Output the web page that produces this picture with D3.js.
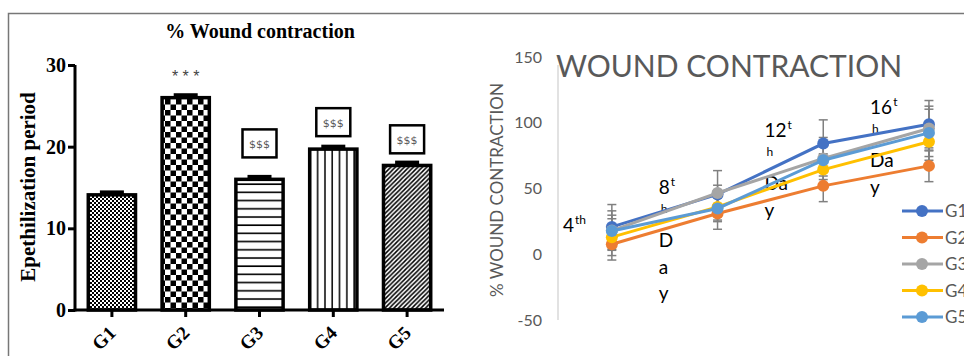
<!DOCTYPE html>
<html>
<head>
<meta charset="utf-8">
<script src="https://cdn.jsdelivr.net/npm/d3@7"></script>
<style>
  body { margin: 0; background: #fff; }
  svg { display: block; }
</style>
</head>
<body>
<svg id="chart" width="964" height="356"></svg>
<script>
// ---- left panel: bar chart ----
const groups = ["G1", "G2", "G3", "G4", "G5"];
const barValues = [14.1, 26.0, 16.0, 19.7, 17.7];
const barErrors = [0.3, 0.3, 0.3, 0.3, 0.35];
const barMarks = ["", "* * *", "$$$", "$$$", "$$$"];
const markLevels = [null, 28.9, 20.4, 23.0, 20.9];
const barTicks = [0, 10, 20, 30];

// ---- right panel: line chart ----
const days = ["4th Day", "8th Day", "12th Day", "16th Day"];
const g1 = [20.8, 45.5, 84.2, 98.9];
const g2 = [7.6, 31.0, 52.0, 67.2];
const g3 = [18.0, 46.6, 72.8, 95.6];
const g4 = [13.0, 36.0, 64.4, 85.5];
const g5 = [17.7, 34.8, 71.5, 92.3];
const g1Err = [17, 7, 18, 18];
const g2Err = [12, 12, 12, 12];
const g3Err = [15, 17, 16, 17];
const g4Err = [14, 10, 12, 14];
const g5Err = [12, 10, 12, 18];
const lineTicks = [-50, 0, 50, 100, 150];
const seriesColors = ["#4472C4", "#ED7D31", "#A5A5A5", "#FFC000", "#5B9BD5"];
// day labels as they wrap inside their text boxes
const dayLabelLines = [
    [["4", "th"]],
    [["8", "t"], ["", "h"], ["D"], ["a"], ["y"]],
    [["12", "t"], ["", "h"], ["Da"], ["y"]],
    [["16", "t"], ["", "h"], ["Da"], ["y"]]
];
const dayLabelLevels = [16.7, 45.6, 89, 107];

const svg = d3.select("#chart");
svg.append("rect").attr("width", 964).attr("height", 356).attr("fill", "#fff");

// outer frame
svg.append("path")
    .attr("d", "M8.5,356 V13.5 H964")
    .attr("fill", "none")
    .attr("stroke", "#777")
    .attr("stroke-width", 1.5);

// patterns
const defs = svg.append("defs");
function pattern(id, w, h, draw) {
    const p = defs.append("pattern")
        .attr("id", id)
        .attr("patternUnits", "userSpaceOnUse")
        .attr("width", w).attr("height", h);
    p.append("rect").attr("width", w).attr("height", h).attr("fill", "#fff");
    draw(p);
}
pattern("p1", 4, 4, p => {
    p.append("rect").attr("width", 2).attr("height", 2).attr("fill", "#000");
    p.append("rect").attr("x", 2).attr("y", 2).attr("width", 2).attr("height", 2).attr("fill", "#000");
});
pattern("p2", 11, 11, p => {
    p.append("rect").attr("width", 5.5).attr("height", 5.5).attr("fill", "#000");
    p.append("rect").attr("x", 5.5).attr("y", 5.5).attr("width", 5.5).attr("height", 5.5).attr("fill", "#000");
});
pattern("p3", 10, 8.2, p => {
    p.append("rect").attr("y", 3).attr("width", 10).attr("height", 1.6).attr("fill", "#000");
});
pattern("p4", 7.3, 10, p => {
    p.append("rect").attr("x", 3).attr("width", 1.5).attr("height", 10).attr("fill", "#000");
});
pattern("p5", 4.5, 4.5, p => {
    p.append("path").attr("d", "M-1,5.5 L5.5,-1 M-1,1 L1,-1 M3.5,5.5 L5.5,3.5")
        .attr("stroke", "#000").attr("stroke-width", 1.5);
});
const patternIds = ["p1", "p2", "p3", "p4", "p5"];

// ---------------- left chart ----------------
const left = svg.append("g");
const xBar = d3.scaleBand().domain(groups).range([75, 444]).paddingInner(0.36).paddingOuter(0.18);
const yBar = d3.scaleLinear().domain([0, 30]).range([310, 65]);

left.append("text")
    .attr("x", 260).attr("y", 38)
    .attr("text-anchor", "middle")
    .attr("font-family", "Liberation Serif")
    .attr("font-weight", "bold")
    .attr("font-size", 20)
    .text("% Wound contraction");

left.append("text")
    .attr("transform", "translate(35,187) rotate(-90)")
    .attr("text-anchor", "middle")
    .attr("font-family", "Liberation Serif")
    .attr("font-weight", "bold")
    .attr("font-size", 21)
    .text("Epethilization period");

left.selectAll("rect.bar")
    .data(barValues)
    .join("rect")
    .attr("class", "bar")
    .attr("x", (d, i) => xBar(groups[i]))
    .attr("y", d => yBar(d))
    .attr("width", xBar.bandwidth())
    .attr("height", d => yBar(0) - yBar(d))
    .attr("fill", (d, i) => `url(#${patternIds[i]})`)
    .attr("stroke", "#000")
    .attr("stroke-width", 3.5);

left.selectAll("line.err")
    .data(barValues)
    .join("line")
    .attr("class", "err")
    .attr("x1", (d, i) => xBar(groups[i]) + xBar.bandwidth() / 2 - 12)
    .attr("x2", (d, i) => xBar(groups[i]) + xBar.bandwidth() / 2 + 12)
    .attr("y1", (d, i) => yBar(d + barErrors[i]))
    .attr("y2", (d, i) => yBar(d + barErrors[i]))
    .attr("stroke", "#000")
    .attr("stroke-width", 4);

const yAxisL = left.append("g")
    .attr("transform", "translate(75,0)")
    .call(d3.axisLeft(yBar).tickValues(barTicks).tickSize(7).tickSizeOuter(0).tickPadding(2));
const xAxisL = left.append("g")
    .attr("transform", "translate(0,310)")
    .call(d3.axisBottom(xBar).tickSize(7).tickSizeOuter(0).tickFormat(""));
[yAxisL, xAxisL].forEach(a => {
    a.selectAll("path, line").attr("stroke", "#000").attr("stroke-width", 3);
});
yAxisL.select("path").attr("d", "M0,311.5 V" + yBar(30));
xAxisL.select("path").attr("d", "M73.5,0 H444");
yAxisL.selectAll("text")
    .attr("font-family", "Liberation Serif")
    .attr("font-weight", "bold")
    .attr("font-size", 20)
    .attr("fill", "#000");

left.selectAll("text.glabel")
    .data(groups)
    .join("text")
    .attr("class", "glabel")
    .attr("transform", d => `translate(${xBar(d) + xBar.bandwidth() / 2 + 5},334) rotate(-45)`)
    .attr("text-anchor", "end")
    .attr("font-family", "Liberation Serif")
    .attr("font-weight", "bold")
    .attr("font-size", 19)
    .text(d => d);

// significance marks
groups.forEach((gname, i) => {
    if (!barMarks[i]) return;
    const cx = xBar(gname) + xBar.bandwidth() / 2;
    const cy = yBar(markLevels[i]);
    if (barMarks[i].startsWith("$")) {
        left.append("rect")
            .attr("x", cx - 17).attr("y", cy - 14)
            .attr("width", 34).attr("height", 28)
            .attr("fill", "#fff")
            .attr("stroke", "#000")
            .attr("stroke-width", 2.5);
        left.append("text")
            .attr("x", cx).attr("y", cy + 4.5)
            .attr("text-anchor", "middle")
            .attr("font-family", "DejaVu Sans")
            .attr("font-size", 11)
            .attr("fill", "#555")
            .text(barMarks[i]);
    } else {
        left.append("text")
            .attr("x", cx).attr("y", cy + 8)
            .attr("text-anchor", "middle")
            .attr("font-family", "Liberation Sans")
            .attr("font-size", 16)
            .attr("fill", "#444")
            .text(barMarks[i]);
    }
});

// ---------------- right chart ----------------
const right = svg.append("g");
const xLine = d3.scaleBand().domain(days).range([559, 559 + 4 * 105.7]);
const yLine = d3.scaleLinear().domain([-50, 150]).range([320, 57]);
const cxDay = d => xLine(d) + xLine.bandwidth() / 2;

right.append("line")
    .attr("x1", 558).attr("x2", 558)
    .attr("y1", yLine(150) + 8).attr("y2", yLine(-50))
    .attr("stroke", "#d9d9d9").attr("stroke-width", 1.5);

right.append("g")
    .attr("transform", "translate(542,0)")
    .call(d3.axisLeft(yLine).tickValues(lineTicks).tickSize(0).tickPadding(0).tickFormat(d => String(d)))
    .call(g => g.select(".domain").remove())
    .selectAll("text")
    .attr("font-family", "Lato")
    .attr("font-size", 16)
    .attr("fill", "#595959");

right.append("text")
    .attr("transform", "translate(503,190) rotate(-90)")
    .attr("text-anchor", "middle")
    .attr("font-family", "Lato")
    .attr("font-size", 17)
    .attr("fill", "#595959")
    .text("% WOUND CONTRACTION");

right.append("text")
    .attr("x", 556).attr("y", 77)
    .attr("font-family", "Lato")
    .attr("font-size", 30)
    .attr("fill", "#595959")
    .text("WOUND CONTRACTION");

const series = [g1, g2, g3, g4, g5];
const seriesErr = [g1Err, g2Err, g3Err, g4Err, g5Err];
const seriesNames = ["G1", "G2", "G3", "G4", "G5"];

// day labels
dayLabelLines.forEach((lines, i) => {
    const offsets = [0, 19, 53, 80, 106];
    const x0 = i === 0 ? 563 : xLine(days[i]) - 6;
    const base = yLine(dayLabelLevels[i]);
    lines.forEach((ln, j) => {
        const t = right.append("text")
            .attr("x", x0).attr("y", base + offsets[j])
            .attr("font-family", "Lato")
            .attr("font-size", 19)
            .attr("fill", "#000");
        if (ln.length === 2) {
            if (ln[0]) t.append("tspan").text(ln[0]);
            t.append("tspan")
                .attr("font-size", 12)
                .attr("dy", ln[0] ? -8 : 0)
                .attr("dx", ln[0] ? 1 : 2)
                .text(ln[1]);
        } else {
            t.text(ln[0]);
        }
    });
});

// error bars
series.forEach((vals, s) => {
    vals.forEach((v, k) => {
        const cx = cxDay(days[k]);
        const e = seriesErr[s][k];
        const eg = right.append("g").attr("stroke", "#808080").attr("stroke-width", 1.5);
        eg.append("line").attr("x1", cx).attr("x2", cx).attr("y1", yLine(v - e)).attr("y2", yLine(v + e));
        [v - e, v + e].forEach(yy => {
            eg.append("line").attr("x1", cx - 4.5).attr("x2", cx + 4.5).attr("y1", yLine(yy)).attr("y2", yLine(yy));
        });
    });
});

const line = d3.line().x((d, k) => cxDay(days[k])).y(d => yLine(d));
series.forEach((vals, s) => {
    right.append("path")
        .datum(vals)
        .attr("d", line)
        .attr("fill", "none")
        .attr("stroke", seriesColors[s])
        .attr("stroke-width", 3);
    right.selectAll(null)
        .data(vals)
        .join("circle")
        .attr("cx", (d, k) => cxDay(days[k]))
        .attr("cy", d => yLine(d))
        .attr("r", 6)
        .attr("fill", seriesColors[s]);
});

// legend (cut by the right edge, as in the source image)
const legend = right.append("g");
seriesNames.forEach((name, s) => {
    const ly = 211 + s * 26.5;
    legend.append("line")
        .attr("x1", 902).attr("x2", 943).attr("y1", ly).attr("y2", ly)
        .attr("stroke", seriesColors[s]).attr("stroke-width", 3);
    legend.append("circle").attr("cx", 922).attr("cy", ly).attr("r", 6).attr("fill", seriesColors[s]);
    legend.append("text")
        .attr("x", 945).attr("y", ly + 6)
        .attr("font-family", "Lato")
        .attr("font-size", 17)
        .attr("fill", "#595959")
        .text(name);
});
</script>
</body>
</html>
